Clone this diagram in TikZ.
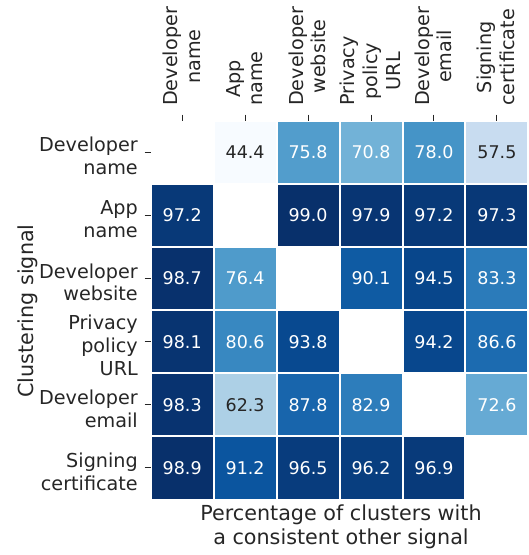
\documentclass[tikz,border=0pt]{standalone}
\usepackage{fontspec}
\setmainfont{DejaVu Sans}
\definecolor{B0}{RGB}{247,251,255}
\definecolor{B1}{RGB}{222,235,247}
\definecolor{B2}{RGB}{198,219,239}
\definecolor{B3}{RGB}{158,202,225}
\definecolor{B4}{RGB}{107,174,214}
\definecolor{B5}{RGB}{66,146,198}
\definecolor{B6}{RGB}{33,113,181}
\definecolor{B7}{RGB}{8,81,156}
\definecolor{B8}{RGB}{8,48,107}
\definecolor{txtdark}{RGB}{38,38,38}
\begin{document}
\begin{tikzpicture}[x=1pt,y=-1pt,
  cell/.style={draw=white,line width=2pt,minimum width=62.95pt,minimum height=63.15pt,inner sep=0pt,font=\fontsize{17.5}{21}\selectfont},
  lt/.style={cell,text=txtdark},
  dk/.style={cell,text=white},
  rowlab/.style={anchor=east,align=right,inner sep=0pt,font=\fontsize{19.2}{22.8}\selectfont,text=txtdark},
  collab/.style={rotate=90,anchor=west,align=center,inner sep=0pt,font=\fontsize{19.2}{22.8}\selectfont,text=txtdark},
  axtitle/.style={inner sep=0pt,font=\fontsize{20.7}{23.8}\selectfont,text=txtdark},
  tickmark/.style={line width=1pt,draw=txtdark}]
\useasboundingbox (0,0) rectangle (529,555);
% row 0
\node[lt,fill=B0] (c01) at (245.125,152.175) {44.4};
\node[dk,fill={B5!60!B4}] (c02) at (308.075,152.175) {75.8};
\node[dk,fill={B4!87!B3}] (c03) at (371.025,152.175) {70.8};
\node[dk,fill={B5!92!B4}] (c04) at (433.975,152.175) {78.0};
\node[lt,fill={B2!92!B1}] (c05) at (496.925,152.175) {57.5};
% row 1
\node[dk,fill={B8!74!B7}] (c10) at (182.175,215.325) {97.2};
\node[dk,fill=B8] (c12) at (308.075,215.325) {99.0};
\node[dk,fill={B8!84!B7}] (c13) at (371.025,215.325) {97.9};
\node[dk,fill={B8!74!B7}] (c14) at (433.975,215.325) {97.2};
\node[dk,fill={B8!75!B7}] (c15) at (496.925,215.325) {97.3};
% row 2
\node[dk,fill={B8!96!B7}] (c20) at (182.175,278.475) {98.7};
\node[dk,fill={B5!69!B4}] (c21) at (245.125,278.475) {76.4};
\node[dk,fill={B7!70!B6}] (c23) at (371.025,278.475) {90.1};
\node[dk,fill={B8!34!B7}] (c24) at (433.975,278.475) {94.5};
\node[dk,fill={B6!70!B5}] (c25) at (496.925,278.475) {83.3};
% row 3
\node[dk,fill={B8!87!B7}] (c30) at (182.175,341.625) {98.1};
\node[dk,fill={B6!30!B5}] (c31) at (245.125,341.625) {80.6};
\node[dk,fill={B8!24!B7}] (c32) at (308.075,341.625) {93.8};
\node[dk,fill={B8!30!B7}] (c34) at (433.975,341.625) {94.2};
\node[dk,fill={B7!18!B6}] (c35) at (496.925,341.625) {86.6};
% row 4
\node[dk,fill={B8!90!B7}] (c40) at (182.175,404.775) {98.3};
\node[lt,fill={B3!62!B2}] (c41) at (245.125,404.775) {62.3};
\node[dk,fill={B7!36!B6}] (c42) at (308.075,404.775) {87.8};
\node[dk,fill={B6!64!B5}] (c43) at (371.025,404.775) {82.9};
\node[dk,fill={B5!13!B4}] (c45) at (496.925,404.775) {72.6};
% row 5
\node[dk,fill={B8!99!B7}] (c50) at (182.175,467.925) {98.9};
\node[dk,fill={B7!86!B6}] (c51) at (245.125,467.925) {91.2};
\node[dk,fill={B8!63!B7}] (c52) at (308.075,467.925) {96.5};
\node[dk,fill={B8!59!B7}] (c53) at (371.025,467.925) {96.2};
\node[dk,fill={B8!69!B7}] (c54) at (433.975,467.925) {96.9};
% ticks
\foreach \c in {182.175,245.125,308.075,371.025,433.975,496.925}
  \draw[tickmark] (\c,114.5) -- (\c,120.5);
\foreach \r in {152.175,215.325,278.475,341.625,404.775,467.925}
  \draw[tickmark] (144.5,\r) -- (150.5,\r);
% row labels
\node[rowlab] (r0) at (138,158.7) {\strut Developer\\\strut name};
\node[rowlab] (r1) at (138,221.8) {\strut App\\\strut name};
\node[rowlab] (r2) at (138,285.0) {\strut Developer\\\strut website};
\node[rowlab] (r3) at (138,348.1) {\strut Privacy\\\strut policy\\\strut URL};
\node[rowlab] (r4) at (138,411.3) {\strut Developer\\\strut email};
\node[rowlab] (r5) at (138,474.4) {\strut Signing\\\strut certificate};
% column labels
\node[collab] (k0) at (184.1,106) {\strut Developer\\\strut name};
\node[collab] (k1) at (247.0,106) {\strut App\\\strut name};
\node[collab] (k2) at (310.0,106) {\strut Developer\\\strut website};
\node[collab] (k3) at (372.9,106) {\strut Privacy\\\strut policy\\\strut URL};
\node[collab] (k4) at (435.9,106) {\strut Developer\\\strut email};
\node[collab] (k5) at (498.8,106) {\strut Signing\\\strut certificate};
% axis titles
\node[axtitle,rotate=90,anchor=base] (ytitle) at (33.5,311) {Clustering signal};
\node[axtitle,anchor=north,align=center] (xtitle) at (341,504) {\strut Percentage of clusters with\\\strut a consistent other signal};
\end{tikzpicture}
\end{document}
